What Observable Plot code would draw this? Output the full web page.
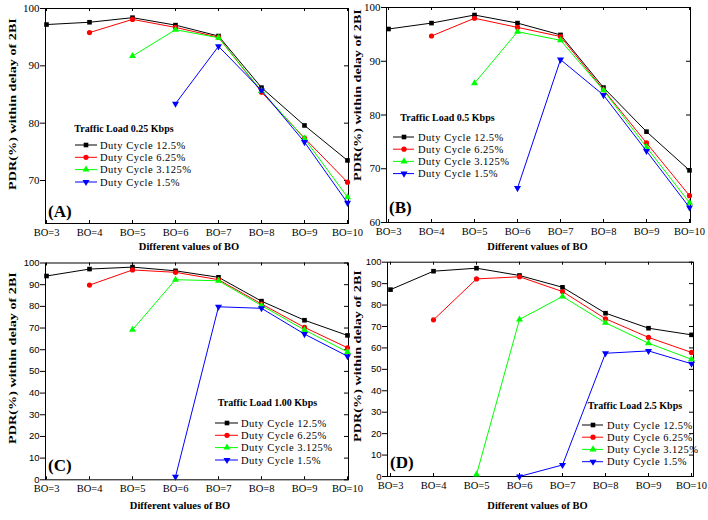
<!DOCTYPE html>
<html><head><meta charset="utf-8">
<script src="https://cdn.jsdelivr.net/npm/d3@7"></script>
<script src="https://cdn.jsdelivr.net/npm/@observablehq/plot@0.6"></script>
<style>
html,body{margin:0;padding:0;background:#fff;}
#page{position:relative;width:708px;height:520px;overflow:hidden;background:#fff;}
#page svg{position:absolute;overflow:visible;}
</style></head><body><div id="page"></div>
<script>
// ---- data ----
const boLabels = ["BO=3","BO=4","BO=5","BO=6","BO=7","BO=8","BO=9","BO=10"];
const seriesNames = ["Duty Cycle 12.5%","Duty Cycle 6.25%","Duty Cycle 3.125%","Duty Cycle 1.5%"];
const seriesColors = ["#000000","#ff0000","#00ff00","#0000ff"];
const loadLabels = ["Traffic Load 0.25 Kbps","Traffic Load 0.5 Kbps","Traffic Load 1.00 Kbps","Traffic Load 2.5 Kbps"];
const panelTags = ["(A)","(B)","(C)","(D)"];
const xTitle = "Different values of BO";
const yTitle = "PDR(%) within delay of 2BI";

// Panel A: 0.25 Kbps
const a125  = [97.2, 97.6, 98.4, 97.1, 95.2, 86.2, 79.6, 73.5];
const a625  = [null, 95.8, 98.1, 96.7, 95.0, 85.4, 77.4, 69.7];
const a3125 = [null, null, 91.7, 96.3, 94.9, 85.6, 77.3, 67.1];
const a15   = [null, null, null, 83.4, 93.4, 85.7, 76.7, 66.1];
// Panel B: 0.5 Kbps
const b125  = [96.0, 97.1, 98.6, 97.1, 94.9, 85.1, 76.9, 69.7];
const b625  = [null, 94.7, 98.0, 96.3, 94.6, 84.7, 74.8, 65.0];
const b3125 = [null, null, 85.9, 95.5, 93.9, 84.6, 74.0, 63.7];
const b15   = [null, null, null, 66.4, 90.3, 83.7, 73.3, 62.8];
// Panel C: 1.00 Kbps
const c125  = [94.0, 97.2, 98.1, 96.4, 93.4, 82.4, 73.6, 66.6];
const c625  = [null, 89.8, 96.8, 95.7, 92.3, 81.1, 70.3, 60.9];
const c3125 = [null, null, 69.2, 92.3, 91.8, 80.4, 69.1, 59.0];
const c15   = [null, null, null, 1.4, 79.8, 79.1, 67.2, 57.0];
// Panel D: 2.5 Kbps
const d125  = [87.2, 95.8, 97.2, 93.8, 88.3, 76.2, 69.2, 66.1];
const d625  = [null, 73.1, 92.2, 93.2, 86.3, 73.6, 64.9, 57.9];
const d3125 = [null, null, 0.9, 73.3, 84.0, 71.7, 62.2, 54.7];
const d15   = [null, null, null, 0.0, 5.4, 57.5, 58.6, 52.6];

const ticksA = [70, 80, 90, 100];
const ticksB = [60, 70, 80, 90, 100];
const ticksCD = [0, 10, 20, 30, 40, 50, 60, 70, 80, 90, 100];

// ---- symbols ----
const triDown = {draw(ctx, size) {
  const y = -Math.sqrt(size / (Math.sqrt(3) * 3));
  ctx.moveTo(0, -y * 2);
  ctx.lineTo(-Math.sqrt(3) * y, y);
  ctx.lineTo(Math.sqrt(3) * y, y);
  ctx.closePath();
}};
const plotSymbols = ["square", "circle", "triangle", triDown];
const d3Symbols = [d3.symbolSquare, d3.symbolCircle, d3.symbolTriangle, triDown];
const R = 2.6;

const serif = "'Liberation Serif','Times New Roman',serif";
const sans = "'Liberation Sans',Arial,sans-serif";

const panels = [
  {series:[a125,a625,a3125,a15], yDomain:[62.5,100], yTicks:ticksA, left:0, top:0, width:354, height:260,
   mL:45, mR:6, mT:8, mB:37, ySans:false, yt:{x:13, y:104}, xt:{dx:-8, dy:26},
   legend:{tx:124, ty:128, rows:[145,157.3,169.6,182], x1:75, x2:97, mx:86, text:100}, tag:{x:48, y:211}},
  {series:[b125,b625,b3125,b15], yDomain:[60,100], yTicks:ticksB, left:354, top:0, width:354, height:260,
   mL:32, mR:18, mT:7, mB:38, ySans:false, yt:{x:358, y:95}, xt:{dx:-1, dy:27},
   legend:{tx:447.5, ty:117, rows:[137,149.2,161.4,173.6], x1:393, x2:414, mx:404, text:418}, tag:{x:389, y:207}},
  {series:[c125,c625,c3125,c15], yDomain:[0,100], yTicks:ticksCD, left:0, top:255, width:354, height:265,
   mL:45, mR:6, mT:7.5, mB:40.7, ySans:true, yt:{x:13, y:358}, xt:{dx:-17, dy:29},
   legend:{tx:267.5, ty:402, rows:[423,435.3,447.6,460], x1:215, x2:238, mx:227, text:241}, tag:{x:48, y:465}},
  {series:[d125,d625,d3125,d15], yDomain:[0,100], yTicks:ticksCD, left:354, top:255, width:354, height:265,
   mL:33, mR:15, mT:6.7, mB:44, ySans:true, yt:{x:358, y:356}, xt:{dx:-3, dy:32},
   legend:{tx:635, ty:405, rows:[425,437.2,449.4,461.7], x1:582, x2:603, mx:593, text:607}, tag:{x:390, y:462}}
];

const page = document.getElementById("page");

panels.forEach((p, pi) => {
  const plotW = p.width - p.mL - p.mR;
  const plotH = p.height - p.mT - p.mB;
  const marks = [
    Plot.frame({stroke: "black", strokeWidth: 1}),
    Plot.gridX(boLabels, {x: d => d, stroke: "black", strokeOpacity: 1, insetTop: plotH - 3}),
    Plot.gridX(boLabels, {x: d => d, stroke: "black", strokeOpacity: 1, insetBottom: plotH - 3}),
    Plot.gridY(p.yTicks, {y: d => d, stroke: "black", strokeOpacity: 1, insetLeft: plotW - 4}),
    Plot.axisY({ticks: p.yTicks, tickSize: 5, tickPadding: 1, label: null,
      fontFamily: p.ySans ? sans : serif, fontSize: p.ySans ? 9.5 : 11}),
    Plot.axisX({tickSize: 0, tickPadding: 5, label: null, fontFamily: serif, fontSize: 10.5}),
    Plot.text([xTitle], {text: d => d, frameAnchor: "bottom", dx: p.xt.dx, dy: p.xt.dy, fontWeight: "bold", fontSize: 10.5, fontFamily: serif})
  ];
  p.series.forEach((vals, si) => {
    const rows = [];
    vals.forEach((v, j) => { if (v != null) rows.push({bo: boLabels[j], v, s: seriesNames[si]}); });
    marks.push(Plot.line(rows, {x: "bo", y: "v", stroke: seriesColors[si], strokeWidth: 1}));
    marks.push(Plot.dot(rows, {x: "bo", y: "v", fill: seriesColors[si], stroke: "none", symbol: plotSymbols[si], r: R}));
  });
  const chart = Plot.plot({
    width: p.width, height: p.height,
    marginLeft: p.mL, marginRight: p.mR, marginTop: p.mT, marginBottom: p.mB,
    x: {type: "point", domain: boLabels, padding: 0, axis: null},
    y: {domain: p.yDomain, axis: null},
    style: {fontFamily: serif, fontSize: "10px", background: "transparent", overflow: "visible", color: "black"},
    marks
  });
  chart.style.left = p.left + "px";
  chart.style.top = p.top + "px";
  page.appendChild(chart);
});

// ---- legends, y titles and panel tags ----
const overlay = d3.select(page).append("svg")
  .attr("width", 708).attr("height", 520)
  .style("left", "0px").style("top", "0px");

panels.forEach((p, pi) => {
  const L = p.legend;
  const g = overlay.append("g").attr("font-family", serif);
  g.append("text").attr("x", L.tx).attr("y", L.ty).attr("text-anchor", "middle")
    .attr("dominant-baseline", "central").attr("font-weight", "bold").attr("font-size", 10)
    .text(loadLabels[pi]);
  seriesNames.forEach((name, si) => {
    const y = L.rows[si];
    g.append("line").attr("x1", L.x1).attr("x2", L.x2).attr("y1", y).attr("y2", y)
      .attr("stroke", seriesColors[si]).attr("stroke-width", 1);
    g.append("path").attr("transform", `translate(${L.mx},${y})`)
      .attr("d", d3.symbol().type(d3Symbols[si]).size(R * R * Math.PI)())
      .attr("fill", seriesColors[si]);
    g.append("text").attr("x", L.text).attr("y", y).attr("dominant-baseline", "central")
      .attr("font-size", 10.5).attr("letter-spacing", 0.5).text(name);
  });
  g.append("text").attr("x", p.tag.x).attr("y", p.tag.y).attr("dominant-baseline", "central")
    .attr("font-weight", "bold").attr("font-size", 17).text(panelTags[pi]);
  // rotated y-axis title, stretched along its length as in the reference
  const yt = g.append("text").attr("text-anchor", "middle").attr("dominant-baseline", "central")
    .attr("font-weight", "bold").attr("font-size", 10).text(yTitle);
  const len = yt.node().getComputedTextLength() || 121;
  const s = 172 / len;
  yt.attr("transform", `translate(${p.yt.x},${p.yt.y}) rotate(-90) scale(${s},1)`);
});
</script>
</body></html>
